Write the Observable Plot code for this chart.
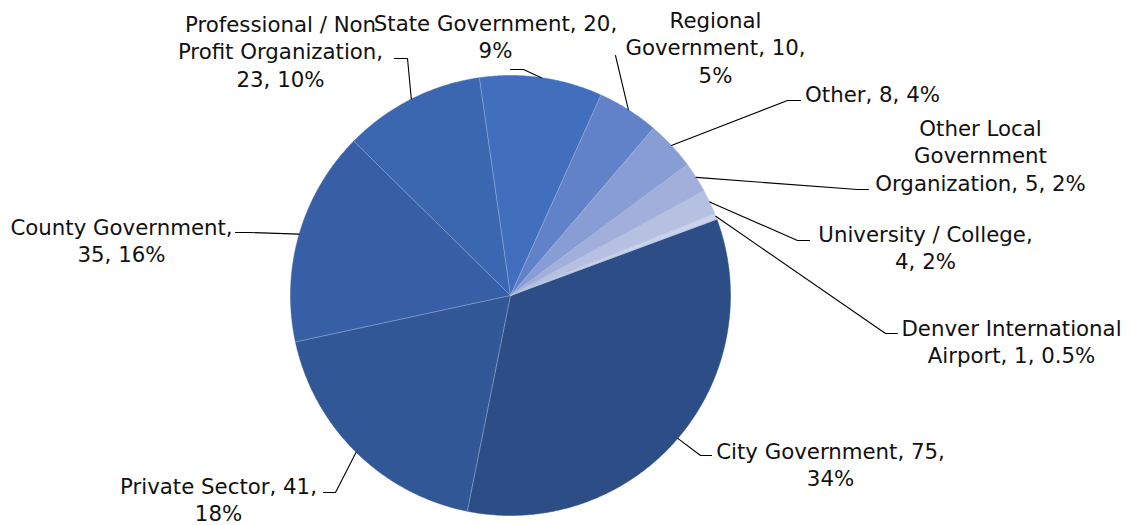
<!DOCTYPE html>
<html><head><meta charset="utf-8">
<script src="https://cdn.jsdelivr.net/npm/d3@7"></script>
<script src="https://cdn.jsdelivr.net/npm/@observablehq/plot@0.6"></script>
<style>html,body{margin:0;padding:0;background:#fff;}</style>
</head><body><div id="chart"></div>
<script>
// ---- data ----
const categories = ["City Government","Private Sector","County Government","Professional / Non Profit Organization","State Government","Regional Government","Other","Other Local Government Organization","University / College","Denver International Airport"];
const counts = [75,41,35,23,20,10,8,5,4,1];
const percentLabels = ["34%","18%","16%","10%","9%","5%","4%","2%","2%","0.5%"];
const labelLines = [
  ["City Government, 75,","34%"],
  ["Private Sector, 41,","18%"],
  ["County Government,","35, 16%"],
  ["Professional / Non","Profit Organization,","23, 10%"],
  ["State Government, 20,","9%"],
  ["Regional","Government, 10,","5%"],
  ["Other, 8, 4%"],
  ["Other Local","Government","Organization, 5, 2%"],
  ["University / College,","4, 2%"],
  ["Denver International","Airport, 1, 0.5%"]
];
const sliceColors = ["#2c4d85","#325796","#375fa5","#3b66b0","#416fbd","#6181c9","#879dd3","#a1afda","#b6c1e2","#cad2ec"];

// ---- layout ----
const W = 1132, H = 525, CX = 510, CY = 295, R = 220, START = 69.7;
const labelLayout = [
  {x:830, y:463, elbow:[700,455], end:[711,455]},
  {x:218, y:498, elbow:[335,492], end:[323,492]},
  {x:121, y:239, elbow:[250,232], end:[235,232]},
  {x:280, y:50,  elbow:[407,58],  end:[394,58]},
  {x:495, y:35,  elbow:[523,69],  end:[510,69]},
  {x:715, y:46,  elbow:[615,55],  end:[615,55]},
  {x:872, y:93,  elbow:[787,100], end:[800,100]},
  {x:980, y:154, elbow:[857,189], end:[868,189]},
  {x:925, y:246, elbow:[797,240], end:[809,240]},
  {x:1011,y:340, elbow:[885,333], end:[897,333]}
];

const total = d3.sum(counts);
const pt = (a, r) => [CX + r*Math.sin(a*Math.PI/180), CY - r*Math.cos(a*Math.PI/180)];
let cum = 0;
const slices = categories.map((c, i) => {
  const a0 = START + cum/total*360; cum += counts[i];
  const a1 = START + cum/total*360;
  return {cat:c, i, a0, a1, mid:(a0+a1)/2};
});
const polyRows = slices.flatMap(s => {
  const n = Math.max(2, Math.ceil((s.a1 - s.a0)/0.5));
  const rows = [{cat:s.cat, x:CX, y:CY}];
  for (let k = 0; k <= n; k++) {
    const [x, y] = pt(s.a0 + (s.a1 - s.a0)*k/n, R);
    rows.push({cat:s.cat, x, y});
  }
  rows.push({cat:s.cat, x:CX, y:CY});
  return rows;
});
const leaderRows = slices.flatMap(s => {
  const L = labelLayout[s.i];
  const [sx, sy] = pt(s.mid, R);
  return [{cat:s.cat, x:sx, y:sy}, {cat:s.cat, x:L.elbow[0], y:L.elbow[1]}, {cat:s.cat, x:L.end[0], y:L.end[1]}];
});
const labels = slices.map(s => ({cat:s.cat, x:labelLayout[s.i].x, y:labelLayout[s.i].y, text:labelLines[s.i].join("\n")}));

const chart = Plot.plot({
  width: W, height: H,
  margin: 0,
  x: {domain:[0, W], range:[0, W], axis:null},
  y: {domain:[0, H], range:[0, H], axis:null},
  color: {domain: categories, range: sliceColors},
  style: {fontFamily: "'DejaVu Sans', sans-serif", background: "#fff"},
  marks: [
    Plot.line(polyRows, {x:"x", y:"y", z:"cat", fill:"cat", stroke:"cat", strokeWidth:0.5, curve:"linear"}),
    Plot.link(slices, {x1: () => CX, y1: () => CY, x2: s => pt(s.a0, R)[0], y2: s => pt(s.a0, R)[1], stroke:"#a9badf", strokeWidth:0.7, strokeOpacity:0.8}),
    Plot.line(leaderRows, {x:"x", y:"y", z:"cat", stroke:"#000", strokeWidth:1.1, curve:"linear"}),
    Plot.text(labels, {x:"x", y:"y", text:"text", fontSize:21.3, lineHeight:1.3, textAnchor:"middle", lineAnchor:"middle", fill:"#111"})
  ]
});
document.getElementById("chart").appendChild(chart);
</script>
</body></html>
